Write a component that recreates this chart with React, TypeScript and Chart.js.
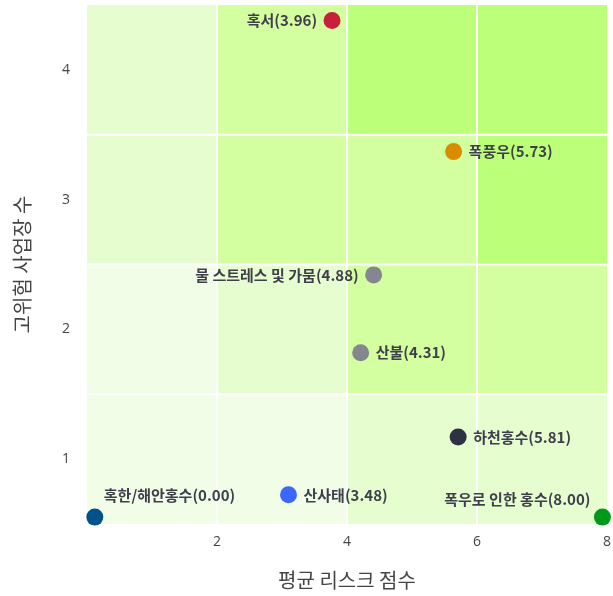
import React, { useEffect, useRef } from "react";
import { Chart, registerables } from "chart.js";

Chart.register(...registerables);

const hazardNames = ["혹서", "폭풍우", "물 스트레스 및 가뭄", "산불", "하천홍수", "산사태", "혹한/해안홍수", "폭우로 인한 홍수"];
const riskScores = [3.96, 5.73, 4.88, 4.31, 5.81, 3.48, 0.0, 8.0];
const xPositions = [3.77, 5.64, 4.41, 4.21, 5.71, 3.1, 0.12, 7.93];
const siteCounts = [4.38, 3.37, 2.42, 1.82, 1.17, 0.725, 0.553, 0.553];
const pointColors = ["#c8203a", "#d98c00", "#868690", "#868690", "#2e3142", "#3b66ff", "#00528a", "#00991a"];
const labelPositions = ["left", "right", "left", "right", "right", "right", "top right", "top left"];

const xTicks = [2, 4, 6, 8];
const yTicks = [1, 2, 3, 4];
const xBands = [0, 2, 4, 6, 8];
const yBands = [0.5, 1.5, 2.5, 3.5, 4.5];
// levels per row, bottom row first
const levelsRow1 = [0, 0, 1, 1];
const levelsRow2 = [0, 1, 2, 2];
const levelsRow3 = [1, 2, 2, 3];
const levelsRow4 = [1, 2, 3, 3];
const levelColors = ["#f2fde8", "#e6fdd0", "#d4ffa0", "#bcff78"];

const xTitle = "평균 리스크 점수";
const yTitle = "고위험 사업장 수";

const cellPlugin = {
  id: "cells",
  beforeDraw(chart: any) {
    const { ctx, scales } = chart;
    const xs = scales.x;
    const ys = scales.y;
    const rows = [levelsRow1, levelsRow2, levelsRow3, levelsRow4];
    ctx.save();
    rows.forEach((row, r) => {
      row.forEach((lvl, c) => {
        const x0 = xs.getPixelForValue(xBands[c]);
        const x1 = xs.getPixelForValue(xBands[c + 1]);
        const y0 = ys.getPixelForValue(yBands[r + 1]);
        const y1 = ys.getPixelForValue(yBands[r]);
        ctx.fillStyle = levelColors[lvl];
        ctx.fillRect(x0, y0, x1 - x0, y1 - y0);
      });
    });
    ctx.strokeStyle = "#ffffff";
    ctx.lineWidth = 2;
    const top = ys.getPixelForValue(yBands[yBands.length - 1]);
    const bottom = ys.getPixelForValue(yBands[0]);
    const left = xs.getPixelForValue(xBands[0]);
    const right = xs.getPixelForValue(xBands[xBands.length - 1]);
    for (let i = 1; i < xBands.length - 1; i++) {
      const x = xs.getPixelForValue(xBands[i]);
      ctx.beginPath();
      ctx.moveTo(x, top);
      ctx.lineTo(x, bottom);
      ctx.stroke();
    }
    for (let i = 1; i < yBands.length - 1; i++) {
      const y = ys.getPixelForValue(yBands[i]);
      ctx.beginPath();
      ctx.moveTo(left, y);
      ctx.lineTo(right, y);
      ctx.stroke();
    }
    ctx.restore();
  },
};

const labelPlugin = {
  id: "pointLabels",
  afterDatasetsDraw(chart: any) {
    const { ctx } = chart;
    const meta = chart.getDatasetMeta(0);
    ctx.save();
    ctx.font = "bold 15px 'Noto Sans CJK KR', 'Noto Sans', sans-serif";
    ctx.fillStyle = "#3f3f4c";
    ctx.textBaseline = "middle";
    meta.data.forEach((el: any, i: number) => {
      const text = `${hazardNames[i]}(${riskScores[i].toFixed(2)})`;
      const pos = labelPositions[i];
      let x = el.x;
      let y = el.y;
      if (pos === "left") {
        ctx.textAlign = "right";
        x -= 15;
      } else if (pos === "right") {
        ctx.textAlign = "left";
        x += 15;
      } else if (pos === "top right") {
        ctx.textAlign = "left";
        x += 9;
        y -= 22;
      } else {
        ctx.textAlign = "right";
        x -= 12;
        y -= 18;
      }
      ctx.fillText(text, x, y);
    });
    ctx.restore();
  },
};

export default function App() {
  const ref = useRef<HTMLCanvasElement>(null);

  useEffect(() => {
    if (!ref.current) return;
    const chart = new Chart(ref.current, {
      type: "scatter",
      data: {
        datasets: [
          {
            data: xPositions.map((x, i) => ({ x, y: siteCounts[i] })),
            backgroundColor: pointColors,
            borderColor: pointColors,
            pointRadius: 8.5,
            pointHoverRadius: 8.5,
            borderWidth: 0,
            clip: false as any,
          },
        ],
      },
      options: {
        responsive: false,
        animation: false,
        devicePixelRatio: 1,
        layout: { padding: { top: 5, right: 6, left: 0, bottom: 0 }, autoPadding: false } as any,
        plugins: { legend: { display: false }, tooltip: { enabled: false } },
        scales: {
          x: {
            type: "linear",
            min: 0,
            max: 8,
            afterBuildTicks: (s: any) => {
              s.ticks = xTicks.map((v) => ({ value: v }));
            },
            afterFit: (s: any) => {
              s.height = 72;
              s.paddingLeft = 0;
              s.paddingRight = 0;
            },
            grid: { display: false, drawTicks: false },
            border: { display: false },
            ticks: {
              padding: 10,
              color: "#444444",
              font: { family: "'Open Sans', 'Noto Sans CJK KR', sans-serif", size: 14 },
            },
            title: {
              display: true,
              text: xTitle,
              color: "#444444",
              font: { family: "'Noto Sans CJK KR', sans-serif", size: 20, weight: "normal" },
              padding: { top: 0, bottom: 4 },
            },
          },
          y: {
            type: "linear",
            min: 0.5,
            max: 4.5,
            afterBuildTicks: (s: any) => {
              s.ticks = yTicks.map((v) => ({ value: v }));
            },
            afterFit: (s: any) => {
              s.width = 87;
              s.paddingTop = 0;
              s.paddingBottom = 0;
            },
            grid: { display: false, drawTicks: false },
            border: { display: false },
            ticks: {
              padding: 17,
              color: "#444444",
              font: { family: "'Open Sans', 'Noto Sans CJK KR', sans-serif", size: 14 },
            },
            title: {
              display: true,
              text: yTitle,
              color: "#444444",
              font: { family: "'Noto Sans CJK KR', sans-serif", size: 20, weight: "normal" },
              padding: { top: 10, bottom: 0 },
            },
          },
        },
      },
      plugins: [cellPlugin, labelPlugin],
    });
    return () => chart.destroy();
  }, []);

  return (
    <div style={{ position: "absolute", left: 0, top: 0, width: 613, height: 596, background: "#ffffff" }}>
      <canvas ref={ref} width={613} height={596} />
    </div>
  );
}
